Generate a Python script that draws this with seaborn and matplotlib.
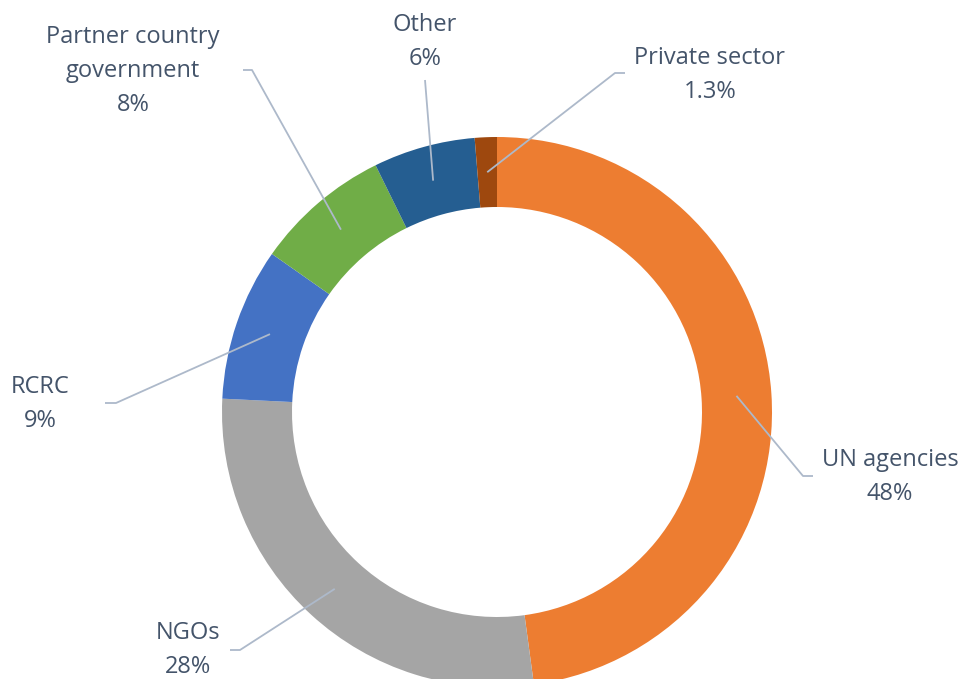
import numpy as np
import matplotlib
matplotlib.use("Agg")
import matplotlib.pyplot as plt
import seaborn as sns

# ===============================
# DATA
# ===============================

categories = ["UN agencies", "NGOs", "RCRC", "Partner country\ngovernment", "Other", "Private sector"]
shares = [48, 28, 9, 8, 6, 1.3]
colors = ["#ED7D31", "#A5A5A5", "#4472C4", "#70AD47", "#255E91", "#9E480E"]

# label text anchor (pixels from top-left) and leader elbow
label_pos = [(890, 477), (188, 650), (40, 404), (133, 71), (425, 42), (710, 75)]
elbows = [((803, 476), (813, 476)),
          ((240, 650), (230, 650)),
          ((116, 403), (105, 403)),
          ((252, 70), (243, 70)),
          ((425, 80), (425, 80)),
          ((615, 73), (625, 73))]

# ===============================
# STYLE
# ===============================

sns.set_theme(style="white")
plt.rcParams["font.family"] = ["Open Sans", "DejaVu Sans"]

W, H = 963, 679
fig = plt.figure(figsize=(W / 100, H / 100), dpi=100)
ax = fig.add_axes([0, 0, 1, 1])

cx, cy = 497, H - 412
R = 275
ring = 70

wedges, _ = ax.pie(shares, colors=colors, startangle=90, counterclock=False,
                   center=(cx, cy), radius=R, frame=True,
                   wedgeprops=dict(width=ring, linewidth=0))
ax.set_xlim(0, W)
ax.set_ylim(0, H)
ax.axis("off")

text_col = "#44546A"
line_col = "#ADB9CA"
mid_r = R - ring / 2

for w, cat, v, (lx, ly), (e1, e2) in zip(wedges, categories, shares, label_pos, elbows):
    ang = np.deg2rad((w.theta1 + w.theta2) / 2)
    sx, sy = cx + mid_r * np.cos(ang), cy + mid_r * np.sin(ang)
    xs = [sx, e1[0], e2[0]]
    ys = [sy, H - e1[1], H - e2[1]]
    ax.plot(xs, ys, color=line_col, lw=1.3, solid_capstyle="butt")
    ax.text(lx, H - ly, f"{cat}\n{v:g}%", ha="center", va="center",
            fontsize=17, color=text_col, linespacing=1.55)

fig.savefig("out.png", dpi=100)
